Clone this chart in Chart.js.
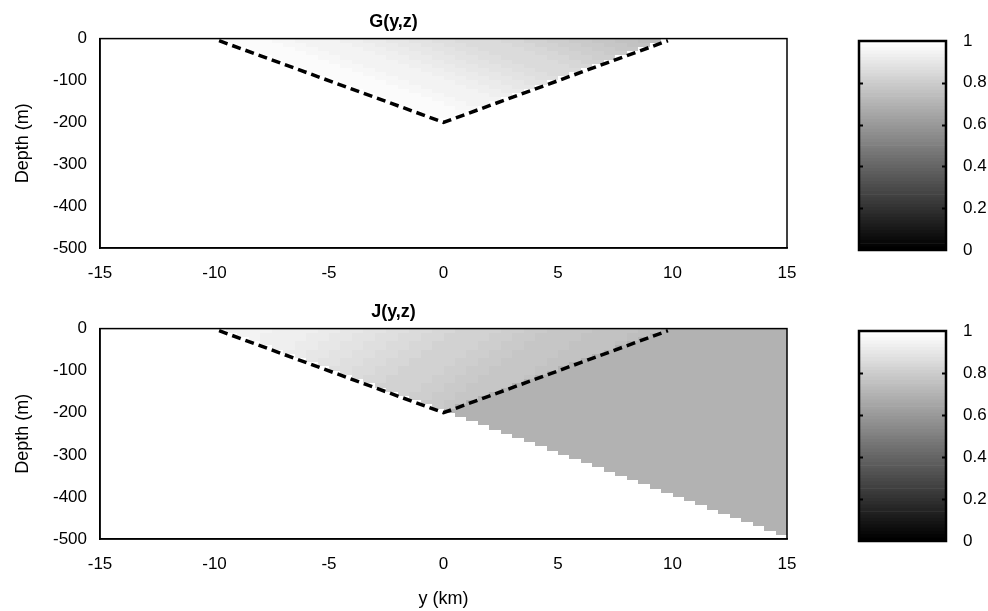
<!DOCTYPE html>
<html>
<head>
<meta charset="utf-8">
<script src="https://cdn.jsdelivr.net/npm/chart.js@4.4.0/dist/chart.umd.min.js"></script>
<style>
  html, body { margin: 0; padding: 0; background: #fff; width: 988px; height: 611px; overflow: hidden; }
  canvas { position: absolute; }
</style>
</head>
<body>
<canvas id="gMap" width="887" height="290" style="left:0;top:0"></canvas>
<canvas id="gBar" width="168" height="290" style="left:820px;top:0"></canvas>
<canvas id="jMap" width="887" height="321" style="left:0;top:290px"></canvas>
<canvas id="jBar" width="168" height="321" style="left:820px;top:290px"></canvas>
<script>
// ---- axis ticks ----
const yKmTicks = [-15, -10, -5, 0, 5, 10, 15];
const depthTicks = [0, -100, -200, -300, -400, -500];
const colorTicks = [0, 0.2, 0.4, 0.6, 0.8, 1];

// ---- surface values (z = 0) of each field, y = -10 ... 10 km ----
const surfaceY = [-10, -9, -8, -7, -6, -5, -4, -3, -2, -1, 0, 1, 2, 3, 4, 5, 6, 7, 8, 9, 10];
const gSurface = [1.00, 0.99, 0.98, 0.97, 0.96, 0.95, 0.94, 0.925, 0.91, 0.895, 0.88,
                  0.865, 0.85, 0.835, 0.82, 0.805, 0.79, 0.775, 0.76, 0.745, 0.73];
const jSurface = [0.97, 0.96, 0.95, 0.94, 0.93, 0.92, 0.905, 0.89, 0.875, 0.86, 0.845,
                  0.83, 0.82, 0.81, 0.795, 0.785, 0.775, 0.765, 0.755, 0.745, 0.735];

// ---- J shelf: uniform value east of y = 0, down to a stepped lower edge ----
const jShelfValue = 0.70;
const shelfY = [0, 0.5, 1, 1.5, 2, 2.5, 3, 3.5, 4, 4.5, 5, 5.5, 6, 6.5, 7,
                7.5, 8, 8.5, 9, 9.5, 10, 10.5, 11, 11.5, 12, 12.5, 13, 13.5, 14, 14.5];
const jLowerEdge = [-200, -210, -220, -230, -240, -250, -260, -270, -280, -290,
                    -300, -310, -320, -330, -340, -350, -360, -370, -380, -390,
                    -400, -410, -420, -430, -440, -450, -460, -470, -480, -490];

// ---- wedge outline (dashed) ----
const wedgeY = [-9.8, 0, 9.8];
const wedgeZ = [-5, -200, -5];

// grid spacing of the fields
const DY = 0.5, DZ = 10;

function grayOf(v) {
  const lvl = Math.round(Math.max(0, Math.min(1, v)) * 63);
  const c = Math.round(lvl / 63 * 255);
  return `rgb(${c},${c},${c})`;
}

function surfaceLookup(arr, ys) {
  let i = Math.round(ys - surfaceY[0]);
  i = Math.max(0, Math.min(arr.length - 1, i));
  return arr[i];
}

// Build cells: inside the wedge the value follows bands from the surface row;
// the J field also carries the uniform shelf.
function buildCells(surface, bandShift, withShelf) {
  const cells = [];
  for (let i = 0; i < 60; i++) {
    const y0 = -15 + i * DY, yc = y0 + DY / 2;
    for (let j = 0; j < 50; j++) {
      const z0 = -j * DZ, zc = z0 - DZ / 2;
      const inWedge = Math.abs(yc) < 10 && zc > -200 + 20 * Math.abs(yc);
      let v = null;
      if (inWedge) {
        v = surfaceLookup(surface, yc + bandShift * Math.abs(zc));
      } else if (withShelf && yc > 0) {
        const k = shelfY.findIndex(s => yc >= s && yc < s + DY);
        if (k >= 0 && zc > jLowerEdge[k]) v = jShelfValue;
      }
      if (v !== null) cells.push({ y0, z0, v });
    }
  }
  return cells;
}

const gCells = buildCells(gSurface, -1 / 20, false);
const jCells = buildCells(jSurface, 1 / 40, true);

const FONT = "'Liberation Sans', Arial, Helvetica, sans-serif";
Chart.defaults.font.family = FONT;
Chart.defaults.color = '#000';

function fieldPlugin(cells) {
  return {
    id: 'field',
    beforeDatasetsDraw(chart) {
      const { ctx, chartArea: a, scales: { x, y } } = chart;
      ctx.save();
      ctx.beginPath();
      ctx.rect(a.left, a.top, a.right - a.left, a.bottom - a.top);
      ctx.clip();
      for (const c of cells) {
        const l = Math.round(x.getPixelForValue(c.y0));
        const r = Math.round(x.getPixelForValue(c.y0 + DY));
        const t = Math.round(y.getPixelForValue(c.z0));
        const b = Math.round(y.getPixelForValue(c.z0 - DZ));
        ctx.fillStyle = grayOf(c.v);
        ctx.fillRect(l, t, r - l, b - t);
      }
      ctx.restore();
    }
  };
}

const framePlugin = {
  id: 'frame',
  afterDraw(chart) {
    const { ctx, chartArea: a } = chart;
    ctx.save();
    ctx.strokeStyle = '#000';
    ctx.lineWidth = 1.5;
    ctx.strokeRect(a.left, a.top, a.right - a.left, a.bottom - a.top);
    ctx.restore();
  }
};

function makeField(id, title, cells, xTitle, xAxisHeight) {
  const pts = wedgeY.map((yv, i) => ({ x: yv, y: wedgeZ[i] }));
  return new Chart(document.getElementById(id), {
    type: 'scatter',
    data: {
      datasets: [{
        data: pts, showLine: true, borderColor: '#000', borderWidth: 3.5,
        borderDash: [9, 5], pointRadius: 0, fill: false
      }]
    },
    options: {
      responsive: false, animation: false, events: [],
      layout: { padding: { left: 0, right: 100, top: 0, bottom: 0 } },
      plugins: {
        legend: { display: false }, tooltip: { enabled: false },
        title: {
          display: true, text: title, color: '#000',
          font: { size: 18, weight: 'bold', family: FONT },
          padding: { top: 11, bottom: 6 }
        }
      },
      scales: {
        x: {
          type: 'linear', min: -15, max: 15,
          afterFit: s => { s.height = xAxisHeight; },
          afterBuildTicks: s => { s.ticks = yKmTicks.map(v => ({ value: v })); },
          grid: { display: false },
          border: { display: true, color: '#000', width: 1.5 },
          ticks: { font: { size: 17 }, padding: 7, color: '#000', maxRotation: 0 },
          title: { display: !!xTitle, text: xTitle || '', font: { size: 18 }, padding: { top: 4, bottom: 1 } }
        },
        y: {
          type: 'linear', min: -500, max: 0,
          afterFit: s => { s.width = 100; },
          afterBuildTicks: s => { s.ticks = depthTicks.map(v => ({ value: v })); },
          grid: { display: false },
          border: { display: true, color: '#000', width: 1.5 },
          ticks: { font: { size: 17 }, padding: 5, color: '#000' },
          title: { display: true, text: 'Depth (m)', font: { size: 18 }, padding: { top: 12, bottom: 0 } }
        }
      }
    },
    plugins: [fieldPlugin(cells), framePlugin]
  });
}

const colorLevels = Array.from({ length: 64 }, (_, k) => k / 63);

const colorbarPlugin = {
  id: 'cbframe',
  afterDraw(chart) {
    const { ctx, chartArea: a, scales: { y } } = chart;
    ctx.save();
    ctx.strokeStyle = '#000';
    ctx.lineWidth = 2;
    for (const v of colorTicks) {
      if (v <= 0 || v >= 1) continue;
      const py = Math.round(y.getPixelForValue(v)) + 0.5;
      ctx.beginPath();
      ctx.moveTo(a.left, py); ctx.lineTo(a.left + 4, py);
      ctx.moveTo(a.right - 4, py); ctx.lineTo(a.right, py);
      ctx.stroke();
    }
    ctx.lineWidth = 2.5;
    ctx.strokeRect(a.left, a.top, a.right - a.left, a.bottom - a.top);
    ctx.restore();
  }
};

function makeColorbar(id, padBottom) {
  return new Chart(document.getElementById(id), {
    type: 'bar',
    data: {
      labels: [''],
      datasets: colorLevels.map(v => ({
        data: [1 / 64], backgroundColor: grayOf(v), borderWidth: 0,
        barPercentage: 1, categoryPercentage: 1, stack: 'cb'
      }))
    },
    options: {
      responsive: false, animation: false, events: [],
      layout: { padding: { left: 39, right: 0, top: 41, bottom: padBottom } },
      plugins: { legend: { display: false }, tooltip: { enabled: false } },
      scales: {
        x: { stacked: true, display: false },
        y: {
          stacked: true, position: 'right', min: 0, max: 1,
          afterFit: s => { s.width = 42; },
          afterBuildTicks: s => { s.ticks = colorTicks.map(v => ({ value: v })); },
          grid: { display: false },
          border: { display: false },
          ticks: {
            font: { size: 17 }, padding: 9, color: '#000',
            callback: v => String(+v.toFixed(1))
          }
        }
      }
    },
    plugins: [colorbarPlugin]
  });
}

makeField('gMap', 'G(y,z)', gCells, null, 42);
makeColorbar('gBar', 40);
makeField('jMap', 'J(y,z)', jCells, 'y (km)', 72);
makeColorbar('jBar', 70);
</script>
</body>
</html>
